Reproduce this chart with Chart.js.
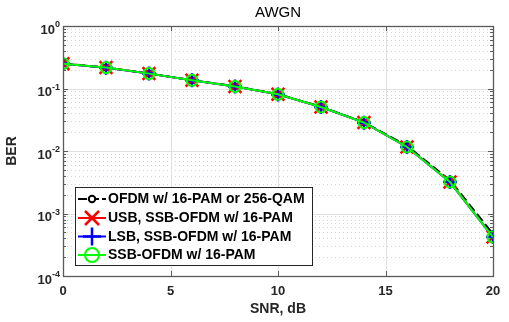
<!DOCTYPE html>
<html>
<head>
<meta charset="utf-8">
<script src="https://cdn.jsdelivr.net/npm/chart.js@4/dist/chart.umd.min.js"></script>
<style>
    html, body { margin: 0; padding: 0; background: #fff; }
</style>
</head>
<body>
<canvas id="berChart" width="509" height="322"></canvas>
<script>
// Data
const snr = [0, 2, 4, 6, 8, 10, 12, 14, 16, 18, 20];
const berOfdm = [0.251, 0.216, 0.174, 0.136, 0.109, 0.081, 0.051, 0.0288, 0.0121, 0.0034, 0.00047];
const berUsb = [0.250, 0.216, 0.173, 0.135, 0.108, 0.0807, 0.0506, 0.0285, 0.0116, 0.00319, 0.00042];
const berLsb = [0.250, 0.215, 0.173, 0.135, 0.108, 0.0805, 0.0505, 0.0284, 0.0116, 0.00318, 0.00042];
const berSsb = [0.250, 0.216, 0.173, 0.135, 0.108, 0.0807, 0.0506, 0.0285, 0.0116, 0.00319, 0.00042];
const seriesNames = ['OFDM w/ 16-PAM or 256-QAM', 'USB, SSB-OFDM w/ 16-PAM', 'LSB, SSB-OFDM w/ 16-PAM', 'SSB-OFDM w/ 16-PAM'];
const xTicks = [0, 5, 10, 15, 20];
const yTickExps = [0, -1, -2, -3, -4];

const axisColor = '#262626';

function toPoints(ys) {
    return snr.map((x, i) => ({ x: x, y: ys[i] }));
}

// Draws the MATLAB-like grid, box, inward ticks, y labels, title and legend
const matlabAxes = {
    id: 'matlabAxes',
    beforeDatasetsDraw(chart) {
        const { ctx, chartArea: a, scales: { x, y } } = chart;
        ctx.save();
        ctx.lineWidth = 1;

        // minor y grid (dotted)
        ctx.strokeStyle = '#d4d4d4';
        ctx.setLineDash([1, 3]);
        for (let k = -4; k < 0; k++) {
            for (let m = 2; m <= 9; m++) {
                const py = Math.round(y.getPixelForValue(m * Math.pow(10, k))) + 0.5;
                ctx.beginPath();
                ctx.moveTo(a.left, py);
                ctx.lineTo(a.right, py);
                ctx.stroke();
            }
        }

        // major grid
        ctx.setLineDash([]);
        ctx.strokeStyle = '#e0e0e0';
        xTicks.forEach(v => {
            const px = Math.round(x.getPixelForValue(v)) + 0.5;
            ctx.beginPath();
            ctx.moveTo(px, a.top);
            ctx.lineTo(px, a.bottom);
            ctx.stroke();
        });
        yTickExps.forEach(e => {
            const py = Math.round(y.getPixelForValue(Math.pow(10, e))) + 0.5;
            ctx.beginPath();
            ctx.moveTo(a.left, py);
            ctx.lineTo(a.right, py);
            ctx.stroke();
        });
        ctx.restore();
    },
    afterDatasetsDraw(chart) {
        const { ctx, chartArea: a, scales: { x, y } } = chart;
        ctx.save();

        // axes box
        ctx.strokeStyle = '#5a5a5a';
        ctx.lineWidth = 1.3;
        ctx.strokeRect(Math.round(a.left) + 0.5, Math.round(a.top) + 0.5,
            Math.round(a.right - a.left), Math.round(a.bottom - a.top));

        // inward ticks
        ctx.lineWidth = 1;
        ctx.beginPath();
        xTicks.forEach(v => {
            const px = Math.round(x.getPixelForValue(v)) + 0.5;
            ctx.moveTo(px, a.bottom); ctx.lineTo(px, a.bottom - 5);
            ctx.moveTo(px, a.top); ctx.lineTo(px, a.top + 5);
        });
        yTickExps.forEach(e => {
            const py = Math.round(y.getPixelForValue(Math.pow(10, e))) + 0.5;
            ctx.moveTo(a.left, py); ctx.lineTo(a.left + 5, py);
            ctx.moveTo(a.right, py); ctx.lineTo(a.right - 5, py);
        });
        for (let k = -4; k < 0; k++) {
            for (let m = 2; m <= 9; m++) {
                const py = Math.round(y.getPixelForValue(m * Math.pow(10, k))) + 0.5;
                ctx.moveTo(a.left, py); ctx.lineTo(a.left + 3, py);
                ctx.moveTo(a.right, py); ctx.lineTo(a.right - 3, py);
            }
        }
        ctx.stroke();

        // y tick labels 10^k
        ctx.fillStyle = axisColor;
        ctx.textBaseline = 'middle';
        yTickExps.forEach(e => {
            const py = y.getPixelForValue(Math.pow(10, e));
            const sup = String(e);
            ctx.font = 'bold 9px "Liberation Sans", Arial, sans-serif';
            const supW = ctx.measureText(sup).width;
            ctx.textAlign = 'left';
            const supX = a.left - 3 - supW;
            ctx.fillText(sup, supX, py - 1);
            ctx.font = 'bold 13px "Liberation Sans", Arial, sans-serif';
            ctx.textAlign = 'right';
            ctx.fillText('10', supX, py + 4);
        });

        // title
        ctx.fillStyle = '#000';
        ctx.font = '15px "Liberation Sans", Arial, sans-serif';
        ctx.textAlign = 'center';
        ctx.fillText('AWGN', (a.left + a.right) / 2, 13);

        // legend
        const lx = 75.5, ly = 187.5, lw = 237, lh = 78;
        ctx.fillStyle = '#fff';
        ctx.fillRect(lx, ly, lw, lh);
        ctx.strokeStyle = axisColor;
        ctx.lineWidth = 1;
        ctx.strokeRect(lx, ly, lw, lh);
        const rows = [199, 218, 236.5, 255];
        const colors = ['#000000', '#ff0000', '#0000ff', '#00ff00'];
        const mx = 92;
        rows.forEach((ry, i) => {
            ctx.strokeStyle = colors[i];
            ctx.lineWidth = 2;
            ctx.setLineDash(i === 0 ? [9, 3] : []);
            ctx.beginPath();
            ctx.moveTo(78, ry); ctx.lineTo(106, ry);
            ctx.stroke();
            ctx.setLineDash([]);
            ctx.beginPath();
            if (i === 0) {
                ctx.fillStyle = '#fff';
                ctx.arc(mx, ry, 3.2, 0, Math.PI * 2);
                ctx.fill();
                ctx.stroke();
            } else if (i === 1) {
                ctx.lineWidth = 2.5;
                ctx.moveTo(mx - 7, ry - 7); ctx.lineTo(mx + 7, ry + 7);
                ctx.moveTo(mx - 7, ry + 7); ctx.lineTo(mx + 7, ry - 7);
                ctx.stroke();
            } else if (i === 2) {
                ctx.lineWidth = 2.5;
                ctx.moveTo(mx - 9, ry); ctx.lineTo(mx + 9, ry);
                ctx.moveTo(mx, ry - 9); ctx.lineTo(mx, ry + 9);
                ctx.stroke();
            } else {
                ctx.arc(mx, ry, 7, 0, Math.PI * 2);
                ctx.stroke();
            }
            ctx.fillStyle = '#000';
            ctx.font = 'bold 14px "Liberation Sans", Arial, sans-serif';
            ctx.textAlign = 'left';
            ctx.fillText(seriesNames[i], 108, ry + 0.5);
        });
        ctx.restore();
    }
};

const ctx = document.getElementById('berChart').getContext('2d');
const chart = new Chart(ctx, {
    type: 'line',
    data: {
        datasets: [{
            label: seriesNames[0],
            data: toPoints(berOfdm),
            borderColor: '#000000',
            backgroundColor: '#ffffff',
            borderWidth: 2,
            borderDash: [9, 4],
            pointStyle: 'circle',
            pointRadius: 3,
            pointBorderWidth: 1.5,
            order: 4
        }, {
            label: seriesNames[1],
            data: toPoints(berUsb),
            borderColor: '#ff0000',
            backgroundColor: '#ff0000',
            borderWidth: 2,
            pointStyle: 'crossRot',
            pointRadius: 9,
            pointBorderWidth: 2.5,
            order: 3
        }, {
            label: seriesNames[2],
            data: toPoints(berLsb),
            borderColor: '#0000ff',
            backgroundColor: '#0000ff',
            borderWidth: 2,
            pointStyle: 'cross',
            pointRadius: 7,
            pointBorderWidth: 2.5,
            order: 2
        }, {
            label: seriesNames[3],
            data: toPoints(berSsb),
            borderColor: '#00ff00',
            backgroundColor: 'rgba(0,0,0,0)',
            borderWidth: 2,
            pointStyle: 'circle',
            pointRadius: 5.5,
            pointBorderWidth: 2,
            order: 1
        }]
    },
    options: {
        responsive: false,
        animation: false,
        layout: { padding: { left: 0, top: 26, right: 16, bottom: 0 } },
        elements: { line: { tension: 0 } },
        plugins: {
            legend: { display: false },
            tooltip: { enabled: false },
            title: { display: false }
        },
        scales: {
            x: {
                type: 'linear',
                min: 0,
                max: 20,
                grid: { display: false, drawTicks: false },
                border: { display: false },
                ticks: {
                    stepSize: 5,
                    padding: 8,
                    color: axisColor,
                    font: { family: '"Liberation Sans", Arial, sans-serif', size: 13, weight: 'bold' }
                },
                title: {
                    display: true,
                    text: 'SNR, dB',
                    color: axisColor,
                    padding: { top: 4, bottom: 4 },
                    font: { family: '"Liberation Sans", Arial, sans-serif', size: 14, weight: 'bold' }
                },
                afterFit: function (scale) { scale.height = 46; }
            },
            y: {
                type: 'logarithmic',
                min: 1e-4,
                max: 1,
                grid: { display: false, drawTicks: false },
                border: { display: false },
                ticks: { display: false },
                title: {
                    display: true,
                    text: 'BER',
                    color: axisColor,
                    padding: { top: 4, bottom: 4 },
                    font: { family: '"Liberation Sans", Arial, sans-serif', size: 14, weight: 'bold' }
                },
                afterFit: function (scale) { scale.width = 63; }
            }
        }
    },
    plugins: [matlabAxes]
});
</script>
</body>
</html>
